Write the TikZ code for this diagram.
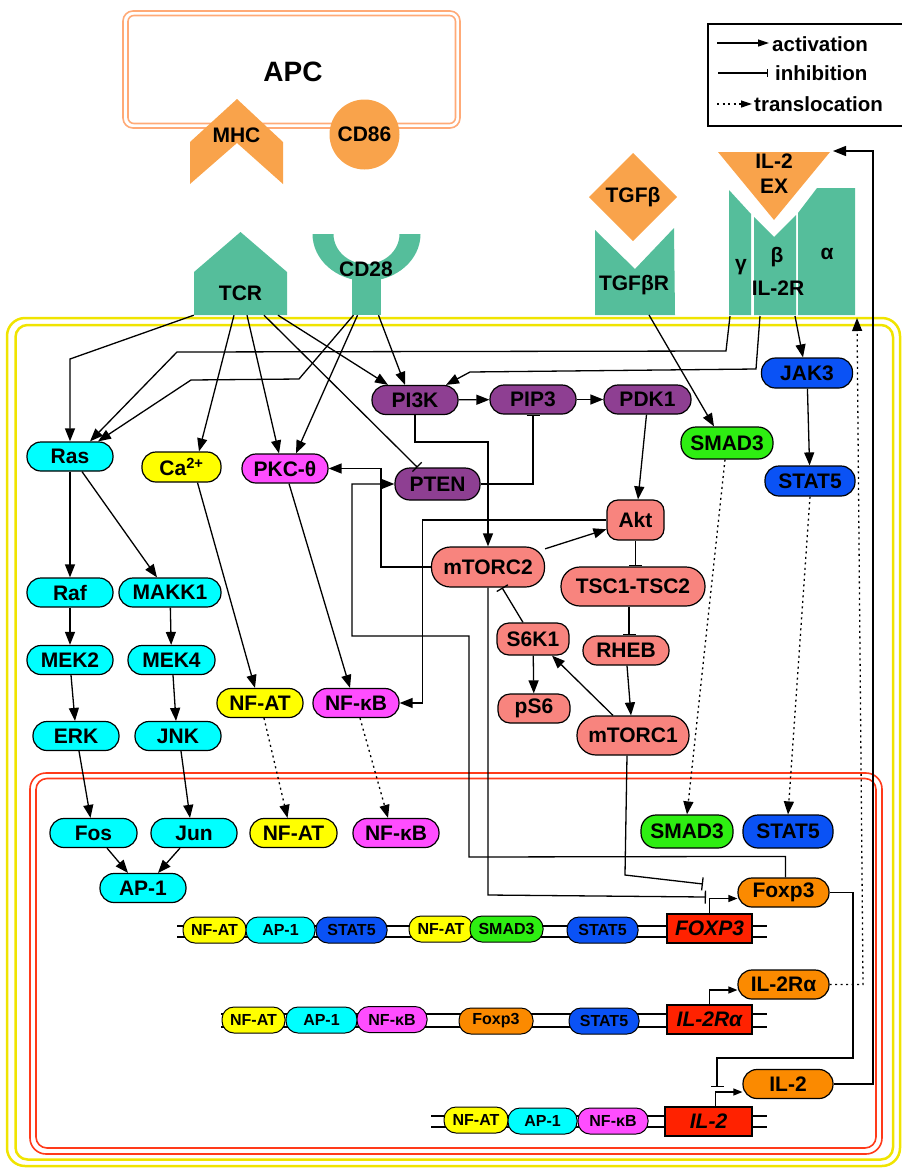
\documentclass[tikz,border=0pt]{standalone}
\usepackage{fontspec}
\setmainfont{Liberation Sans}
\usetikzlibrary{arrows.meta}
\definecolor{cy}{HTML}{00FFFF}
\definecolor{yl}{HTML}{FFFF00}
\definecolor{mg}{HTML}{FF4DFF}
\definecolor{pu}{HTML}{8E3F92}
\definecolor{sa}{HTML}{F8847E}
\definecolor{gr}{HTML}{2EEE12}
\definecolor{bl}{HTML}{0A52F5}
\definecolor{orn}{HTML}{FB8A00}
\definecolor{gb}{HTML}{FF2200}
\definecolor{ap}{HTML}{F9A34B}
\definecolor{rc}{HTML}{55BE9B}
\definecolor{apline}{HTML}{FFAA77}
\definecolor{ym}{HTML}{F0E400}
\definecolor{rm}{HTML}{FF3A1A}
\newcommand\mf{\fontsize{21}{23}\selectfont\bfseries}
\newcommand\lf{\fontsize{20.5}{22}\selectfont\bfseries}
\newcommand\sfnt{\fontsize{16}{18}\selectfont\bfseries}
\begin{document}
\begin{tikzpicture}[x=1pt,y=-1pt,
  pill/.style={draw=black,line width=1.2pt,rounded corners=14pt,inner sep=0pt,minimum height=29pt,font=\mf},
  sp/.style={draw=black,line width=1pt,rounded corners=12pt,inner sep=0pt,minimum height=26pt,font=\sfnt},
  gene/.style={draw=black,line width=1.2pt,fill=gb,inner sep=0pt,minimum width=85pt,minimum height=29pt,font=\fontsize{21}{23}\selectfont\bfseries\itshape},
  act/.style={line width=1.3pt,-{Triangle[length=13pt,width=10pt]}},
  inh/.style={line width=1.3pt,-{Bar[width=13pt]}},
  trl/.style={line width=1.3pt,dash pattern=on 2pt off 3.5pt,-{Triangle[length=13pt,width=10pt]}},
  tss/.style={line width=1.2pt,-{Triangle[length=9pt,width=7pt]}},
  lbl/.style={font=\mf,inner sep=0pt},
  dna/.style={line width=1.2pt},
]
\useasboundingbox (0,0) rectangle (902,1168);
% membranes
\draw[ym,line width=2.5pt,rounded corners=18pt] (7,318) rectangle (900,1166);
\draw[ym,line width=2.5pt,rounded corners=12pt] (15.5,325) rectangle (893,1159.5);
\draw[rm,line width=1.6pt,rounded corners=16pt] (30,773) rectangle (882,1154);
\draw[rm,line width=1.6pt,rounded corners=11pt] (36,778.5) rectangle (876,1148);
% APC
\draw[apline,line width=1.6pt,rounded corners=10pt] (123,11) rectangle (460,128);
\draw[apline,line width=1.6pt,rounded corners=6pt] (128,15.5) rectangle (455.5,123.5);
\node[font=\fontsize{28}{30}\selectfont\bfseries,inner sep=0pt] (APC) at (293,72) {APC};
\fill[ap] (237,99) -- (283,142) -- (283,184) -- (237,143) -- (190,184) -- (190,142) -- cycle;
\node[lbl] (MHC) at (236.5,135) {MHC};
\node[circle,fill=ap,minimum size=70pt,inner sep=0pt,font=\mf] (CD86) at (364.5,134.5) {CD86};
% receptors
\fill[rc] (194,315) -- (194,272) -- (240.5,232) -- (287,272) -- (287,315) -- cycle;
\node[lbl,minimum width=93pt,minimum height=43pt] (TCR) at (240.5,293.5) {TCR};
\begin{scope}
\clip (300,234) rectangle (430,300);
\fill[rc,even odd rule] (366.5,234) ellipse[x radius=54,y radius=47] (366.5,234) ellipse[x radius=33,y radius=30];
\end{scope}
\node[fill=rc,inner sep=0pt,minimum width=29pt,minimum height=45pt] (CD28s) at (366.5,292.5) {};
\node[lbl] (CD28) at (366,269) {CD28};
\fill[ap] (589,197) -- (633,153) -- (677,197) -- (633,241) -- cycle;
\node[lbl] (TGFb) at (633,197) {TGFβ};
\fill[rc] (595,230) -- (635,269) -- (674,228) -- (675,315) -- (595,315) -- cycle;
\node[lbl] (TGFbR) at (634,285) {TGFβR};
\fill[ap] (718,152) -- (830,152) -- (774,220) -- cycle;
\node[lbl,align=center] (IL2EX) at (774,174) {IL-2\\[2pt]EX};
\fill[rc] (729,190) -- (751,214) -- (751,315) -- (729,315) -- cycle;
\fill[rc] (754,217) -- (774,237) -- (796,215) -- (796,315) -- (754,315) -- cycle;
\fill[rc] (798,213) -- (817,188) -- (855,188) -- (855,315) -- (798,315) -- cycle;
\node[lbl] (gam) at (741,267) {γ};
\node[lbl] (bet) at (777,257) {β};
\node[lbl] (alp) at (827,254) {α};
\node[lbl] (IL2R) at (778,288) {IL-2R};
\coordinate (g1) at (730,316);
\coordinate (b1) at (760,316);
\coordinate (a1) at (795,316);
\coordinate (aIn) at (857,318);
\coordinate (tg1) at (649,315);
\coordinate (exTip) at (833,151);
% legend
\draw[line width=1.2pt] (708,24) rectangle (906,126);
\coordinate (la1) at (717,43); \coordinate (la2) at (769,43);
\coordinate (li1) at (718,73); \coordinate (li2) at (768,73);
\coordinate (lt1) at (717,104); \coordinate (lt2) at (752,104);
\draw[line width=1.2pt,-{Triangle[length=11pt,width=7pt]}] (la1) -- (la2);
\draw[line width=1.2pt,-{Bar[width=8pt]}] (li1) -- (li2);
\draw[line width=1.2pt,dash pattern=on 2pt off 3.5pt,-{Triangle[length=11pt,width=7pt]}] (lt1) -- (lt2);
\node[font=\lf,inner sep=0pt,anchor=west] (lact) at (772,44) {activation};
\node[font=\lf,inner sep=0pt,anchor=west] (linh) at (775,73) {inhibition};
\node[font=\lf,inner sep=0pt,anchor=west] (ltrl) at (754,104) {translocation};
% cytoplasm nodes
\node[pill,fill=cy,minimum width=86pt] (Ras) at (70,456.5) {Ras};
\node[pill,fill=yl,minimum width=79pt,minimum height=30pt] (Ca) at (181.5,467) {Ca\textsuperscript{2+}};
\node[pill,fill=mg,minimum width=86pt] (PKC) at (285,468.5) {PKC-θ};
\node[pill,fill=pu,minimum width=86pt] (PI3K) at (415,400) {PI3K};
\node[pill,fill=pu,minimum width=86pt] (PIP3) at (533,399.5) {PIP3};
\node[pill,fill=pu,minimum width=87pt] (PDK1) at (647.5,399.5) {PDK1};
\node[pill,fill=pu,minimum width=85pt,minimum height=32pt,rounded corners=15pt] (PTEN) at (437.5,484) {PTEN};
\node[pill,fill=bl,minimum width=91pt,minimum height=30pt] (JAK3) at (807,373) {JAK3};
\node[pill,fill=gr,minimum width=92pt,minimum height=32pt,rounded corners=15pt] (SMAD3c) at (727,443) {SMAD3};
\node[pill,fill=bl,minimum width=90pt,minimum height=30pt] (STAT5c) at (810,481) {STAT5};
\node[pill,fill=sa,minimum width=57pt,minimum height=40pt,rounded corners=11pt] (Akt) at (635.5,520) {Akt};
\node[pill,fill=sa,minimum width=113pt,minimum height=40pt,rounded corners=19pt] (mTORC2) at (488,567) {mTORC2};
\node[pill,fill=sa,minimum width=144pt,minimum height=39pt,rounded corners=19pt] (TSC) at (633,586.5) {TSC1-TSC2};
\node[pill,fill=sa,minimum width=72pt,minimum height=32pt,rounded corners=12pt] (S6K1) at (533,639) {S6K1};
\node[pill,fill=sa,minimum width=86pt] (RHEB) at (626,650.5) {RHEB};
\node[pill,fill=sa,minimum width=72pt,rounded corners=12pt] (pS6) at (534,708.5) {pS6};
\node[pill,fill=sa,minimum width=112pt,minimum height=39pt,rounded corners=19pt] (mTORC1) at (633,735.5) {mTORC1};
\node[pill,fill=cy,minimum width=86pt] (Raf) at (70,592.5) {Raf};
\node[pill,fill=cy,minimum width=102pt] (MAKK1) at (170,592.5) {MAKK1};
\node[pill,fill=cy,minimum width=86pt] (MEK2) at (70,660) {MEK2};
\node[pill,fill=cy,minimum width=87pt] (MEK4) at (171.5,660) {MEK4};
\node[pill,fill=cy,minimum width=86pt] (ERK) at (76,736) {ERK};
\node[pill,fill=cy,minimum width=86pt] (JNK) at (178,736) {JNK};
\node[pill,fill=yl,minimum width=86pt] (NFATc) at (260,703) {NF-AT};
\node[pill,fill=mg,minimum width=86pt] (NFkBc) at (356,703) {NF-κB};
% nucleus nodes
\node[pill,fill=cy,minimum width=87pt] (Fos) at (93.5,833) {Fos};
\node[pill,fill=cy,minimum width=86pt] (Jun) at (194,833) {Jun};
\node[pill,fill=yl,minimum width=87pt] (NFATn) at (293.5,833) {NF-AT};
\node[pill,fill=mg,minimum width=86pt] (NFkBn) at (396,833) {NF-κB};
\node[pill,fill=cy,minimum width=86pt] (AP1) at (143,888) {AP-1};
\node[pill,fill=gr,minimum width=92pt,minimum height=33pt,rounded corners=15pt] (SMAD3n) at (687,831.5) {SMAD3};
\node[pill,fill=bl,minimum width=90pt,minimum height=33pt,rounded corners=15pt] (STAT5n) at (788,831.5) {STAT5};
\node[pill,fill=orn,minimum width=91pt] (Foxp3) at (783.5,892.5) {Foxp3};
\node[pill,fill=orn,minimum width=91pt] (IL2Ra) at (783.5,984.5) {IL-2Rα};
\node[pill,fill=orn,minimum width=90pt] (IL2) at (788,1084) {IL-2};
% gene rows
\draw[dna] (177,926) -- (767,926) (177,937) -- (767,937);
\node[sp,fill=yl,minimum width=63pt] (r1a) at (214.5,930) {NF-AT};
\node[sp,fill=cy,minimum width=69pt] (r1b) at (280.5,930) {AP-1};
\node[sp,fill=bl,minimum width=71pt] (r1c) at (351.5,930) {STAT5};
\node[sp,fill=yl,minimum width=64pt] (r1d) at (441,929) {NF-AT};
\node[sp,fill=gr,minimum width=73pt] (r1e) at (506.5,929) {SMAD3};
\node[sp,fill=bl,minimum width=71pt] (r1f) at (602.5,930) {STAT5};
\node[gene] (gF) at (709.5,928.5) {FOXP3};
\draw[dna] (221,1014) -- (767,1014) (221,1027) -- (767,1027);
\node[sp,fill=yl,minimum width=63pt] (r2a) at (253.5,1020) {NF-AT};
\node[sp,fill=cy,minimum width=71pt] (r2b) at (321.5,1020) {AP-1};
\node[sp,fill=mg,minimum width=70pt] (r2c) at (392,1019.5) {NF-κB};
\node[sp,fill=orn,minimum width=74pt] (r2d) at (496,1021) {Foxp3};
\node[sp,fill=bl,minimum width=70pt] (r2e) at (604,1021) {STAT5};
\node[gene] (gR) at (709.5,1019.5) {IL-2Rα};
\draw[dna] (431,1116) -- (767,1116) (431,1127) -- (767,1127);
\node[sp,fill=yl,minimum width=64pt] (r3a) at (476,1120) {NF-AT};
\node[sp,fill=cy,minimum width=69pt] (r3b) at (542.5,1121) {AP-1};
\node[sp,fill=mg,minimum width=70pt] (r3c) at (613,1121) {NF-κB};
\node[gene,minimum width=87pt] (gI) at (708.5,1121.5) {IL-2};
% connectors from receptors
\draw[act] (TCR.south west) -- (70,359) -- (Ras.north);
\draw[act] ([xshift=-6.5pt]TCR.south) -- ([xshift=17.5pt]Ca.north);
\draw[act] ([xshift=6.5pt]TCR.south) -- ([xshift=-6pt]PKC.north);
\draw[inh] ([xshift=23.5pt]TCR.south) -- ([xshift=-20pt]PTEN.north);
\draw[act] ([xshift=37.5pt]TCR.south) -- ([xshift=-27pt]PI3K.north);
\draw[act] ([xshift=-13pt]CD28s.south) -- (299,379) -- (191,380) -- ([xshift=28pt]Ras.north);
\draw[act] ([xshift=-9pt]CD28s.south) -- ([xshift=11pt]PKC.north);
\draw[act] ([xshift=12pt]CD28s.south) -- ([xshift=-10pt]PI3K.north);
\draw[act] (g1) -- (726,351) -- (177,352) -- ([xshift=20pt]Ras.north);
\draw[act] (b1) -- (756,369) -- (470,372) -- ([xshift=31pt]PI3K.north);
\draw[act] (a1) -- ([xshift=-4pt]JAK3.north);
\draw[act] (tg1) -- ([xshift=-13pt]SMAD3c.north);
% MAPK
\draw[act] (Ras.south) -- (Raf.north);
\draw[act] ([xshift=12pt]Ras.south) -- ([xshift=-13pt]MAKK1.north);
\draw[act] (Raf) -- (MEK2);
\draw[act] (MAKK1) -- (MEK4);
\draw[act] ([xshift=1pt]MEK2.south) -- ([xshift=-1pt]ERK.north);
\draw[act] ([xshift=1.5pt]MEK4.south) -- ([xshift=-2pt]JNK.north);
\draw[act] ([xshift=3pt]ERK.south) -- ([xshift=-3pt]Fos.north);
\draw[act] ([xshift=3pt]JNK.south) -- ([xshift=-4pt]Jun.north);
\draw[act] ([xshift=13.5pt]Fos.south) -- ([xshift=-15pt]AP1.north);
\draw[act] ([xshift=-14pt]Jun.south) -- ([xshift=15pt]AP1.north);
\draw[act] ([xshift=16pt]Ca.south) -- ([xshift=-5pt]NFATc.north);
\draw[act] ([xshift=4pt]PKC.south) -- ([xshift=-6pt]NFkBc.north);
% translocations
\draw[trl] ([xshift=4pt]NFATc.south) -- ([xshift=-6pt]NFATn.north);
\draw[trl] ([xshift=4pt]NFkBc.south) -- ([xshift=-8pt]NFkBn.north);
\draw[trl] ([xshift=-2pt]SMAD3c.south) -- (SMAD3n.north);
\draw[trl] (STAT5c.south) -- (STAT5n.north);
\draw[act] (JAK3) -- (STAT5c);
% PI3K / mTOR
\draw[act] (PI3K) -- (PIP3);
\draw[act] (PIP3) -- (PDK1);
\draw[inh] (PTEN.east) -| (PIP3.south);
\draw[act] (PI3K.south) -- ++(0,27) -| (mTORC2.north);
\draw[act] ([xshift=-1pt]PDK1.south) -- ([xshift=2.5pt]Akt.north);
\draw[act] (mTORC2) -- (Akt);
\draw[inh] (Akt.south) -- (Akt.south |- TSC.north);
\draw[act] (Akt.west) -- ++(-184,0) |- (NFkBc.east);
\draw[act] (mTORC2.west) -- ++(-50,0) |- (PKC.east);
\draw[act] ([xshift=-20pt]mTORC1.north) -- ([xshift=19pt]S6K1.south);
\draw[inh] ([xshift=-10pt]S6K1.north) -- ([xshift=14pt]mTORC2.south);
\draw[act] (S6K1) -- (pS6);
\draw[inh] ([xshift=-4pt]TSC.south) -- ([xshift=3pt]RHEB.north);
\draw[act] ([xshift=1pt]RHEB.south) -- ([xshift=-2pt]mTORC1.north);
% nucleus regulation
\coordinate (iF1) at (703,884);
\coordinate (iF2) at (706,897);
\coordinate (iI) at (717,1087);
\draw[inh] ([xshift=-6pt]mTORC1.south) -- (625,875) -- (iF1);
\draw[inh] (mTORC2.south) -- (488,895) -- (iF2);
\draw[act] ([xshift=2pt]Foxp3.north) -- ++(0,-21) -- (469,857) -- (469,636) -- (352,636) |- (PTEN.west);
\draw[inh] (Foxp3.east) -| (853,1058) -- (717,1058) -- (iI);
\draw[act] (IL2.east) -| (873,151) -- (exTip);
\draw[trl] (IL2Ra.east) -- (863,984.5) -- (aIn);
\draw[tss] (gF.north) |- ([yshift=-6pt]Foxp3.west);
\draw[tss] (gR.north) |- ([yshift=-5.5pt]IL2Ra.west);
\draw[tss] ([xshift=7pt]gI.north) |- ([yshift=-8pt]IL2.west);
\end{tikzpicture}
\end{document}
